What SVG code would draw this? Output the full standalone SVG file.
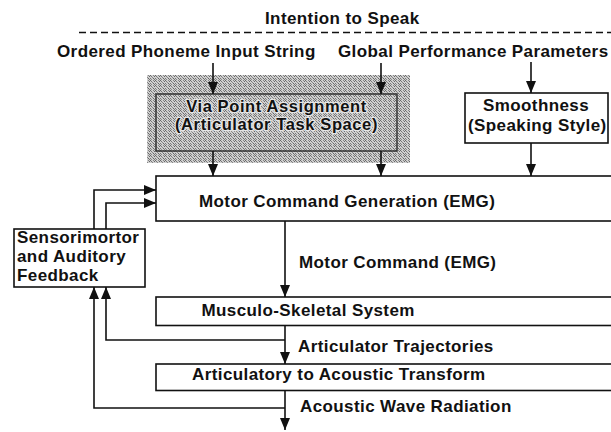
<svg xmlns="http://www.w3.org/2000/svg" width="611" height="432" viewBox="0 0 611 432">
<style>
text{font-family:"Liberation Sans",Arial,Helvetica,sans-serif;font-weight:bold;font-size:17px;letter-spacing:0.4px;fill:#111}
.box{fill:#fff;stroke:#111;stroke-width:1.6}
.ln{fill:none;stroke:#111;stroke-width:1.6}
.arr{fill:none;stroke:#111;stroke-width:1.6;marker-end:url(#ah)}
.halo{font-size:16.5px;letter-spacing:0.6px;paint-order:stroke;stroke:#e6e6e6;stroke-width:2.5px;stroke-linejoin:round}
</style>
<defs>
<marker id="ah" markerUnits="userSpaceOnUse" markerWidth="13" markerHeight="11" refX="12" refY="5" orient="auto">
<path d="M0,0 L12,5 L0,10 z" fill="#111"/>
</marker>
<pattern id="dither" width="5" height="5" patternUnits="userSpaceOnUse">
<rect width="5" height="5" fill="#cfcfcf"/>
<rect x="0" y="0" width="1" height="1" fill="#666"/>
<rect x="3" y="0" width="1" height="1" fill="#888"/>
<rect x="1" y="1" width="1" height="1" fill="#777"/>
<rect x="4" y="1" width="1" height="1" fill="#666"/>
<rect x="2" y="2" width="1" height="1" fill="#888"/>
<rect x="0" y="3" width="1" height="1" fill="#777"/>
<rect x="3" y="3" width="1" height="1" fill="#666"/>
<rect x="1" y="4" width="1" height="1" fill="#888"/>
<rect x="4" y="4" width="1" height="1" fill="#777"/>
</pattern>
</defs>
<rect width="611" height="432" fill="#fff"/>

<g id="intention">
<text x="265" y="24">Intention to Speak</text>
<line x1="79" y1="32.5" x2="611" y2="32.5" stroke="#111" stroke-width="1.5" stroke-dasharray="7,4"/>
</g>
<g id="phoneme-input"><text x="57" y="57">Ordered Phoneme Input String</text></g>
<g id="global-params"><text x="338" y="57">Global Performance Parameters</text></g>

<g id="via-point">
<rect x="147" y="75" width="263" height="88" fill="url(#dither)"/>
<rect x="156" y="94" width="241" height="57" fill="none" stroke="#333" stroke-width="1.5"/>
<text class="halo" x="276.5" y="112" text-anchor="middle">Via Point Assignment</text>
<text class="halo" x="276.5" y="130" text-anchor="middle">(Articulator Task Space)</text>
</g>

<g id="smoothness">
<rect class="box" x="465" y="93" width="143" height="50"/>
<text x="483" y="111">Smoothness</text>
<text x="468" y="131">(Speaking Style)</text>
</g>

<g id="motor-gen">
<rect class="box" x="156" y="176" width="470" height="45"/>
<text x="199" y="206.5">Motor Command Generation (EMG)</text>
</g>

<g id="feedback">
<rect class="box" x="14" y="229" width="131" height="58"/>
<text x="17" y="243">Sensorimortor</text>
<text x="17" y="262">and Auditory</text>
<text x="17" y="281">Feedback</text>
</g>

<g id="musculo">
<rect class="box" x="156" y="297" width="470" height="28.5"/>
<text x="201.5" y="316">Musculo-Skeletal System</text>
</g>

<g id="transform">
<rect class="box" x="156" y="364" width="470" height="26.5"/>
<text x="192" y="380">Articulatory to Acoustic Transform</text>
</g>

<g id="labels">
<text x="299" y="268">Motor Command (EMG)</text>
<text x="298" y="351.5">Articulator Trajectories</text>
<text x="300" y="411.5">Acoustic Wave Radiation</text>
</g>

<g id="connectors">
<line class="arr" x1="213" y1="63" x2="213" y2="94"/>
<line class="arr" x1="381" y1="63" x2="381" y2="94"/>
<line class="arr" x1="531" y1="62" x2="531" y2="93"/>
<line class="arr" x1="213" y1="151" x2="213" y2="176"/>
<line class="arr" x1="381" y1="151" x2="381" y2="176"/>
<line class="arr" x1="531" y1="143" x2="531" y2="176"/>
<polyline class="arr" points="94,229 94,190 156,190"/>
<polyline class="arr" points="106,229 106,203 156,203"/>
<line class="arr" x1="285" y1="221" x2="285" y2="297"/>
<line class="arr" x1="285" y1="325.5" x2="285" y2="364"/>
<line class="arr" x1="285" y1="390.5" x2="285" y2="430"/>
<polyline class="arr" points="285,340 106,340 106,287"/>
<polyline class="arr" points="285,408 94,408 94,287"/>
</g>
</svg>
